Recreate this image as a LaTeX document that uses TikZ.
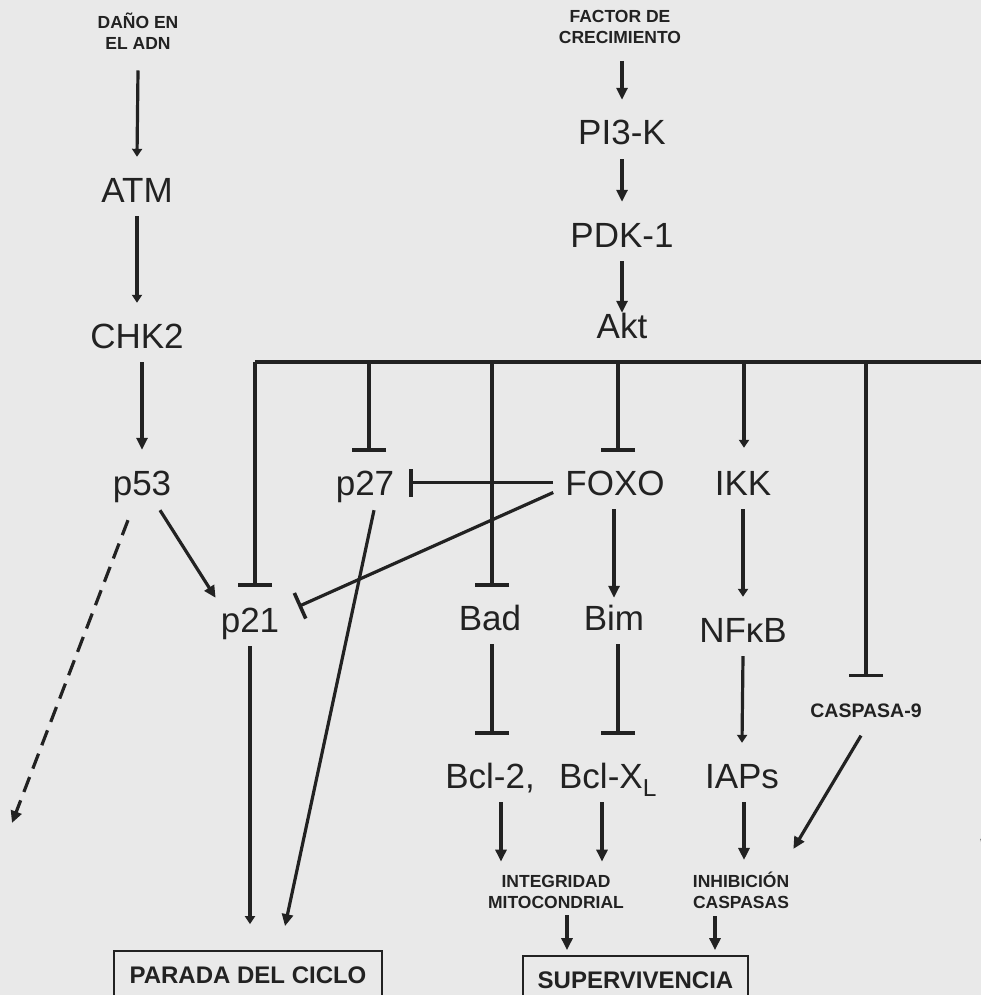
\documentclass[tikz,border=0pt]{standalone}
\usepackage{fontspec}
\setmainfont{Liberation Sans}
\usetikzlibrary{arrows.meta,calc}
\definecolor{paper}{HTML}{E9E9E9}
\definecolor{ink}{HTML}{222222}

\begin{document}
\begin{tikzpicture}[
        x=1pt, y=-1pt,
        big/.style={
            font=\fontsize{35}{40}\selectfont,
            text=ink,
            inner sep=0pt,
            text height=45pt,
            text depth=14pt,
            anchor=base
        },
        small/.style={
            font=\fontsize{17.5}{21}\selectfont\bfseries,
            text=ink,
            align=center,
            inner sep=0pt
        },
        result/.style={
            draw=ink,
            line width=1.8pt,
            font=\fontsize{24}{28}\selectfont\bfseries,
            text=ink,
            inner sep=0pt,
            text height=32pt,
            text depth=30pt,
            anchor=base
        },
        act/.style={
            draw=ink,
            line width=3.2pt,
            -{Triangle[length=12pt,width=11pt]}
        },
        faint/.style={
            act,
            -{Triangle[length=8pt,width=10pt]}
        },
        inh/.style={
            draw=ink,
            line width=3.2pt,
            -{Bar[width=34pt,line width=3.6pt]}
        },
        inhs/.style={
            inh,
            -{Bar[width=28pt,line width=3.6pt]}
        }
    ]

        \path[use as bounding box, fill=paper] (0,0) rectangle (981,995);
        \clip (0,0) rectangle (981,995);

        \node[small] (dano) at (138,31) {DAÑO EN\\EL ADN};
        \node[big] (atm) at (137,202) {ATM};
        \node[big] (chk2) at (137,348) {CHK2};
        \node[big] (p53) at (142,495) {p53};
        \node[big] (p21) at (250,632) {p21};

        \node[small] (factor) at (620,27) {FACTOR DE\\CRECIMIENTO};
        \node[big] (pi3k) at (622,145) {PI3-K};
        \node[big] (pdk) at (622,247) {PDK-1};
        \node[big, text height=35pt] (akt) at (622,338) {Akt};

        \node[big] (p27) at (365,495) {p27};
        \node[big] (foxo) at (615,495) {FOXO};
        \node[big] (ikk) at (743,495) {IKK};

        \node[big] (bad) at (490,630) {Bad};
        \node[big] (bim) at (614,630) {Bim};
        \node[big] (nfkb) at (743,642) {NFκB};

        \node[big] (bcltwo) at (490,788) {Bcl-2,};
        \node[big] (bclxl) at (608,788) {Bcl-X\textsubscript{L}};
        \node[big] (iaps) at (742,788) {IAPs};

        \node[small, font=\fontsize{19.5}{23}\selectfont\bfseries] (casp9) at (866,710.5) {CASPASA-9};
        \node[small] (integ) at (556,891.5) {INTEGRIDAD\\MITOCONDRIAL};
        \node[small] (inhib) at (741,890.5) {INHIBICIÓN\\CASPASAS};

        \node[result, minimum width=268pt] (parada) at (248,983) {PARADA DEL CICLO};
        \node[result, minimum width=225pt] (superv) at (635.5,988) {SUPERVIVENCIA};

        \coordinate (aktL) at (255,362);
        \coordinate (aktR) at (995,362);
        \coordinate (barP27) at (369,362);
        \coordinate (barBad) at (492,362);
        \coordinate (barFoxo) at (618,362);
        \coordinate (barIkk) at (744,362);
        \coordinate (barCasp) at (866,362);
        \coordinate (apop) at (12,823);
        \coordinate (edgeA) at (1000,790);
        \coordinate (edgeB) at (983,852);

        \draw[faint] ($(dano.south)+(0,21)$) -- (atm.north);
        \draw[faint] (atm.south) -- (chk2.north);
        \draw[act] (chk2.south -| p53.north) -- (p53.north);
        \draw[act] ($(p53.south)+(18,1)$) -- ($(p21.north west)+(-5,11)$);
        \draw[act, dash pattern=on 16pt off 9pt] ($(p53.south)+(-14,11)$) -- (apop);

        \draw[act] ($(factor.south)+(2,17)$) -- (pi3k.north);
        \draw[act] (pi3k.south) -- (pdk.north);
        \draw[act] (pdk.south) -- ($(akt.north)+(0,10)$);

        \draw[draw=ink, line width=3.2pt] (aktL) -- (aktR);
        \draw[inh] (aktL) -- (aktL |- p21.north);
        \draw[inh] (barP27) -- ($(barP27 |- p27.north)+(0,2)$);
        \draw[inh] (barBad) -- ($(barBad |- bad.north)+(0,2)$);
        \draw[inh] (barFoxo) -- ($(barFoxo |- foxo.north)+(0,2)$);
        \draw[faint] (barIkk) -- ($(barIkk |- ikk.north)+(0,-2)$);
        \draw[inh] (barCasp) -- ($(casp9.north)+(0,-26)$);

        \draw[inhs] ($(foxo.west)+(-12,3)$) -- ($(p27.east)+(15,3)$);
        \draw[inhs] ($(foxo.west)+(-12,13)$) -- ($(p21.east)+(19,-10)$);
        \draw[act] (foxo.south -| bim.north) -- ($(bim.north)+(0,13)$);
        \draw[faint] (ikk.south) -- (nfkb.north);
        \draw[faint] (nfkb.south) -- (iaps.north);

        \draw[inh] (bad.south -| barBad) -- ($(bcltwo.north -| barBad)+(0,-8)$);
        \draw[inh] (bim.south -| barFoxo) -- ($(bclxl.north -| barFoxo)+(0,-8)$);

        \draw[act] ($(bcltwo.south)+(11,0)$) -- ($(integ.north)+(-55,-13)$);
        \draw[act] ($(bclxl.south)+(-6,0)$) -- ($(integ.north)+(46,-13)$);
        \draw[act] ($(iaps.south)+(2,0)$) -- ($(inhib.north)+(3,-12)$);
        \draw[act] ($(casp9.south)+(-5,18)$) -- ($(inhib.north east)+(4,-23)$);

        \draw[act] ($(integ.south)+(11,7)$) -- ($(superv.north)+(-68.5,-5)$);
        \draw[act] ($(inhib.south)+(-26,7)$) -- ($(superv.north)+(79.5,-5)$);
        \draw[faint] (p21.south) -- ($(parada.north)+(2,-26)$);
        \draw[act] ($(p27.south)+(9,1)$) -- ($(parada.north)+(37,-24)$);

        \draw[act] (edgeA) -- (edgeB);

    \end{tikzpicture}
\end{document}
